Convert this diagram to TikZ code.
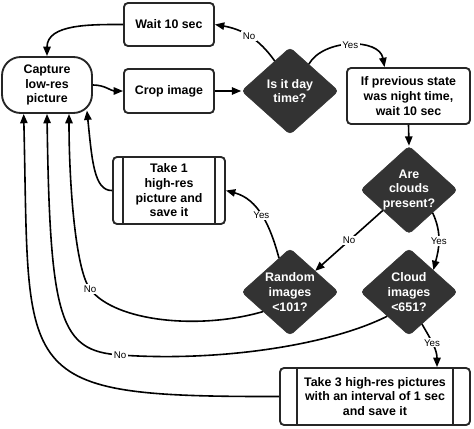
\documentclass[tikz,border=0pt]{standalone}
\usepackage{fontspec}
\setmainfont{Liberation Sans}
\usetikzlibrary{arrows.meta,shapes.geometric}

\begin{document}
\begin{tikzpicture}
[x=0.75pt,y=0.75pt,
 box/.style={rectangle,draw=black!85,fill=white,line width=1.4pt,rounded corners=3pt,
   align=center,inner sep=2pt,font=\fontsize{9.3}{11}\selectfont\bfseries},
 decision/.style={diamond,draw=black!80,fill=black!80,rounded corners=3pt,text=white,
   align=center,inner sep=0pt,shape aspect=1.1,minimum width=72.75pt,minimum height=65.25pt,
   font=\fontsize{9.3}{11}\selectfont\bfseries},
 flow/.style={line width=1.2pt,-{Triangle[length=7pt,width=5.5pt]}},
 lbl/.style={fill=white,inner sep=1pt,font=\fontsize{7.3}{8}\selectfont}]
\useasboundingbox (0,0) rectangle (474,-428);

\node[box,minimum width=67.5pt,minimum height=42pt,rounded corners=14pt] (capture) at (47,-85) {Capture\\low-res\\picture};
\node[box,minimum width=67.5pt,minimum height=32.25pt] (wait) at (169,-24.5) {Wait 10 sec};
\node[box,minimum width=67.5pt,minimum height=33pt] (crop) at (169,-91) {Crop image};
\node[decision] (day) at (290,-91) {Is it day\\time?};
\node[box,minimum width=92.25pt,minimum height=42pt] (prev) at (408.5,-96) {If previous state\\was night time,\\wait 10 sec};
\node[decision] (clouds) at (409,-190) {Are\\clouds\\present?};
\node[box,minimum width=84pt,minimum height=50.25pt] (take1) at (169,-190.5) {Take 1\\high-res\\picture and\\save it};
\node[decision] (random) at (290,-292) {Random\\images\\<101?};
\node[decision] (cloudimg) at (409,-292) {Cloud\\images\\<651?};
\node[box,minimum width=142.5pt,minimum height=42.75pt] (take3) at (375,-396.5) {Take 3 high-res pictures\\with an interval of 1 sec\\and save it};

% process bars
\draw[line width=1.4pt,black!85] ([xshift=8.25pt]take1.north west) -- ([xshift=8.25pt]take1.south west);
\draw[line width=1.4pt,black!85] ([xshift=-8.25pt]take1.north east) -- ([xshift=-8.25pt]take1.south east);
\draw[line width=1.4pt,black!85] ([xshift=13.5pt]take3.north west) -- ([xshift=13.5pt]take3.south west);
\draw[line width=1.4pt,black!85] ([xshift=-13.5pt]take3.north east) -- ([xshift=-13.5pt]take3.south east);

\draw[flow] (wait.west) to[out=180,in=90] (capture.north);
\draw[flow] (capture.east) to[out=0,in=180] (crop.west);
\draw[flow] (crop.east) -- (day.west);
\draw[flow] (day.117) to[out=125,in=-10] node[lbl] {No} (wait.east);
\draw[flow] (day.55) to[out=60,in=100] node[lbl] {Yes} ([xshift=-18pt]prev.north);
\draw[flow] (prev.south) -- (clouds.north);
\draw[flow] (clouds.218) -- node[lbl] {No} (random.40);
\draw[flow] (clouds.-44) to[out=-65,in=75] node[lbl] {Yes} (cloudimg.42);
\draw[flow] (random.108) to[out=105,in=-15] node[lbl] {Yes} (take1.east);
\draw[flow] (cloudimg.-68) to[out=-60,in=90] node[lbl,pos=0.45] {Yes} ([xshift=46.5pt]take3.north);
\draw[flow] (take1.west) .. controls (94,-191) and (92,-160) .. ([xshift=-4.5pt,yshift=2.5pt]capture.south east);
\draw[flow] (random.216) .. controls (200,-330) and (115,-322) .. (90,-289) node[lbl] {No}
  .. controls (75,-269) and (69,-180) .. ([xshift=16.5pt]capture.south);
\draw[flow] (cloudimg.228) .. controls (330,-345) and (220,-362) .. (120,-355) node[lbl] {No}
  .. controls (60,-351) and (50,-320) .. (capture.south);
\draw[flow] (take3.west) .. controls (10,-397) and (30,-380) .. ([xshift=-17.5pt]capture.south);
\end{tikzpicture}
\end{document}
